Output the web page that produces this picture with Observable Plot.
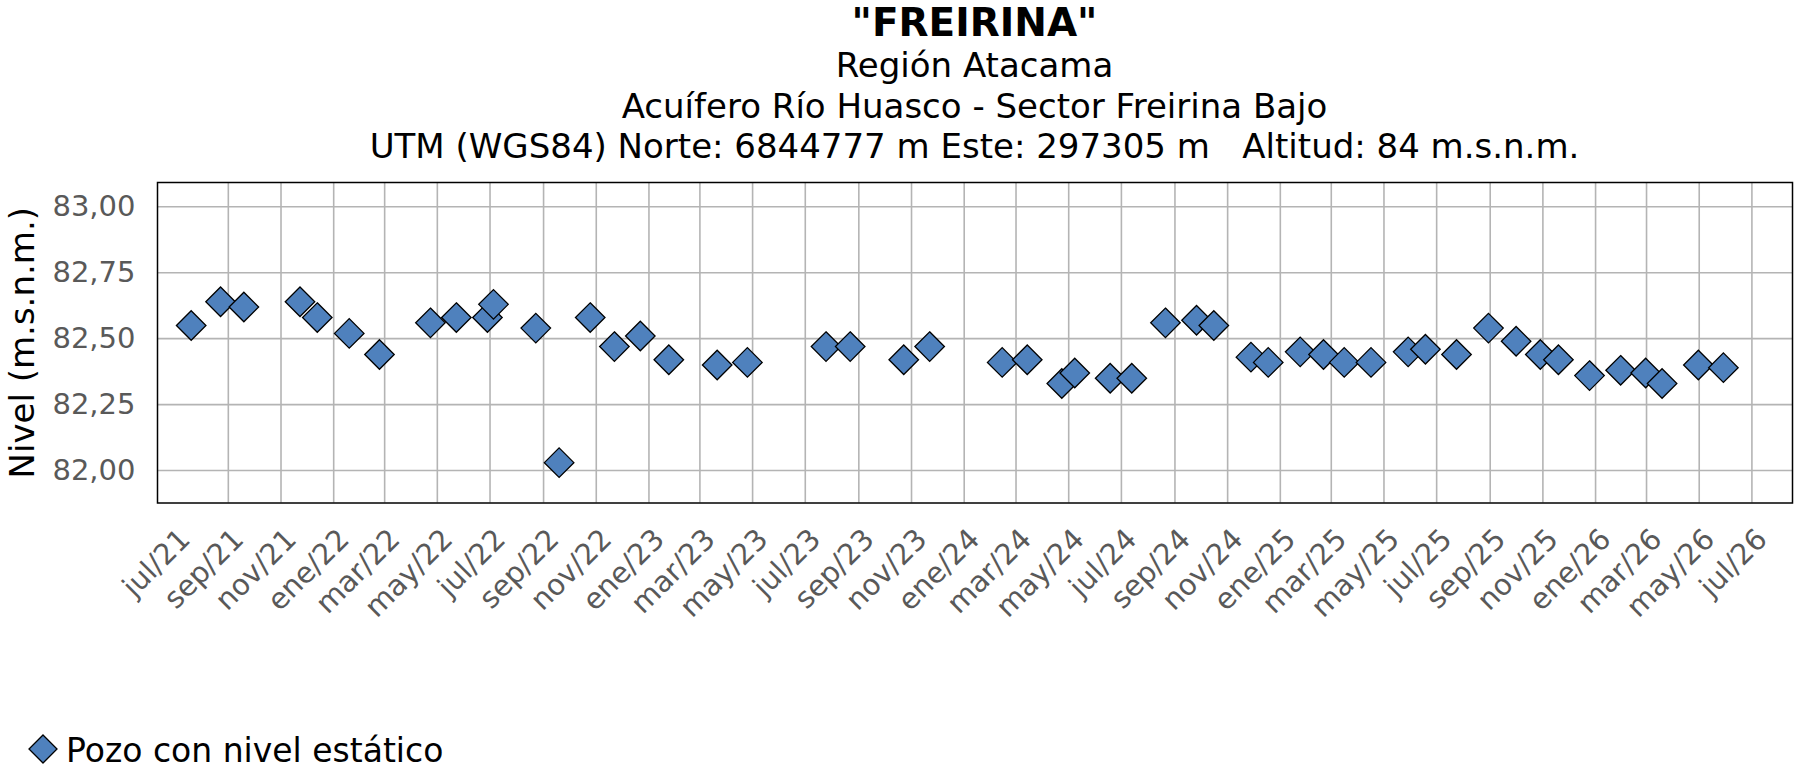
<!DOCTYPE html>
<html>
<head>
<meta charset="utf-8">
<script src="https://cdn.jsdelivr.net/npm/d3@7"></script>
<script src="https://cdn.jsdelivr.net/npm/@observablehq/plot@0.6"></script>
<style>
  html, body { margin: 0; padding: 0; background: #fff; }
  body { font-family: "DejaVu Sans", Verdana, sans-serif; }
  #wrap { width: 1797px; height: 768px; position: relative; }
  #titles { position: relative; width: 1797px; height: 170px; }
  .t { position: absolute; left: 157px; width: 1635px; text-align: center; white-space: pre; color: #000; }
  #legend { position: relative; width: 1797px; height: 38px; }
  #legend svg { position: absolute; left: 27px; top: 3px; }
  #legend span { position: absolute; left: 66px; top: 5.6px; font-size: 33px; line-height: 30px; color: #000; white-space: pre; }
</style>
</head>
<body>
<div id="wrap">
  <div id="titles"></div>
  <div id="chart"></div>
  <div id="legend"></div>
</div>
<script>
// ---- Data ----
const titleText = "\"FREIRINA\"";
const subtitleLines = [
  "Región Atacama",
  "Acuífero Río Huasco - Sector Freirina Bajo",
  "UTM (WGS84) Norte: 6844777 m Este: 297305 m   Altitud: 84 m.s.n.m."
];
const yTitle = "Nivel (m.s.n.m.)";
const seriesName = "Pozo con nivel estático";

const dates = [
  "2021-07-20","2021-08-23","2021-09-19","2021-11-23","2021-12-13","2022-01-19","2022-02-23",
  "2022-04-23","2022-05-23","2022-06-28","2022-07-05","2022-08-23","2022-09-19","2022-10-25",
  "2022-11-22","2022-12-22","2023-01-24","2023-03-21","2023-04-25","2023-07-25","2023-08-22",
  "2023-10-23","2023-11-22","2024-02-14","2024-03-14","2024-04-23","2024-05-08","2024-06-18",
  "2024-07-13","2024-08-21","2024-09-26","2024-10-16","2024-11-28","2024-12-18","2025-01-24",
  "2025-02-20","2025-03-16","2025-04-16","2025-05-29","2025-06-18","2025-07-24","2025-08-30",
  "2025-10-01","2025-10-29","2025-11-19","2025-12-25","2026-01-30","2026-02-28","2026-03-19",
  "2026-04-30","2026-05-29"
];
const niveles = [
  82.55, 82.64, 82.62, 82.64, 82.58, 82.52, 82.44,
  82.56, 82.58, 82.58, 82.63, 82.54, 82.03, 82.58,
  82.47, 82.51, 82.42, 82.40, 82.41, 82.47, 82.47,
  82.42, 82.47, 82.41, 82.42, 82.33, 82.37, 82.35,
  82.35, 82.56, 82.57, 82.55, 82.43, 82.41, 82.45,
  82.44, 82.41, 82.41, 82.45, 82.46, 82.44, 82.54,
  82.49, 82.44, 82.42, 82.36, 82.38, 82.37, 82.33,
  82.40, 82.39
];

const tickDates = [
  "2021-07-01","2021-09-01","2021-11-01","2022-01-01","2022-03-01","2022-05-01","2022-07-01",
  "2022-09-01","2022-11-01","2023-01-01","2023-03-01","2023-05-01","2023-07-01","2023-09-01",
  "2023-11-01","2024-01-01","2024-03-01","2024-05-01","2024-07-01","2024-09-01","2024-11-01",
  "2025-01-01","2025-03-01","2025-05-01","2025-07-01","2025-09-01","2025-11-01","2026-01-01",
  "2026-03-01","2026-05-01","2026-07-01"
];
const tickLabels = [
  "jul/21","sep/21","nov/21","ene/22","mar/22","may/22","jul/22",
  "sep/22","nov/22","ene/23","mar/23","may/23","jul/23","sep/23",
  "nov/23","ene/24","mar/24","may/24","jul/24","sep/24","nov/24",
  "ene/25","mar/25","may/25","jul/25","sep/25","nov/25","ene/26",
  "mar/26","may/26","jul/26"
];
const yTicks = [82.00, 82.25, 82.50, 82.75, 83.00];
const xDomain = ["2021-06-11", "2026-08-17"];
const yDomain = [81.877, 83.092];

// ---- Build ----
const data = dates.map((d, i) => ({date: new Date(d), nivel: niveles[i]}));
const tickD = tickDates.map(d => new Date(d));
const labelMap = new Map(tickD.map((d, i) => [d.getTime(), tickLabels[i]]));
const gridD = tickD.slice(1);

const titles = document.getElementById("titles");
function addLine(text, top, size, lh, weight) {
  const el = document.createElement("div");
  el.className = "t";
  el.textContent = text;
  el.style.top = top + "px";
  el.style.fontSize = size + "px";
  el.style.lineHeight = lh + "px";
  el.style.fontWeight = weight;
  titles.appendChild(el);
}
addLine(titleText, 5.8, 39, 34, "bold");
addLine(subtitleLines[0], 48, 34, 34, "normal");
addLine(subtitleLines[1], 89, 34, 34, "normal");
addLine(subtitleLines[2], 129, 34, 34, "normal");

const fmtY = d => d.toFixed(2).replace(".", ",");
const diamond = d3.symbolDiamond2 || "diamond";

const chart = Plot.plot({
  width: 1797,
  height: 560,
  marginTop: 12,
  marginBottom: 227.5,
  marginLeft: 157,
  marginRight: 5,
  style: {fontFamily: "DejaVu Sans, Verdana, sans-serif", background: "white", overflow: "visible"},
  x: {type: "utc", domain: xDomain.map(d => new Date(d))},
  y: {domain: yDomain},
  marks: [
    Plot.gridX(gridD, {stroke: "#b4b4b4", strokeOpacity: 1, strokeWidth: 1.6}),
    Plot.gridY(yTicks, {stroke: "#b4b4b4", strokeOpacity: 1, strokeWidth: 1.6}),
    Plot.axisY(yTicks, {
      tickSize: 0, tickPadding: 22, tickFormat: fmtY,
      fontSize: 29, fill: "#595959", label: null
    }),
    Plot.axisX(tickD, {
      tickSize: 0, tickPadding: 0, tickRotate: -45,
      tickFormat: d => labelMap.get(d.getTime()),
      textAnchor: "end", lineAnchor: "bottom", dx: 17, dy: 38,
      fontSize: 29, fill: "#595959", label: null
    }),
    Plot.text([yTitle], {
      text: d => d, frameAnchor: "left", rotate: -90, dx: -124,
      lineAnchor: "bottom", textAnchor: "middle", fontSize: 34, fill: "black"
    }),
    Plot.frame({stroke: "black", strokeWidth: 1.5}),
    Plot.dot(data, {
      x: "date", y: "nivel", symbol: diamond, r: 13.3,
      fill: "#4f81bd", fillOpacity: 1, stroke: "black", strokeWidth: 1.3
    })
  ]
});
document.getElementById("chart").appendChild(chart);

// legend
const legend = document.getElementById("legend");
const ns = "http://www.w3.org/2000/svg";
const lsvg = document.createElementNS(ns, "svg");
lsvg.setAttribute("width", 32);
lsvg.setAttribute("height", 32);
const poly = document.createElementNS(ns, "polygon");
poly.setAttribute("points", "16,2 30,16 16,30 2,16");
poly.setAttribute("fill", "#4f81bd");
poly.setAttribute("stroke", "black");
poly.setAttribute("stroke-width", "1.3");
lsvg.appendChild(poly);
legend.appendChild(lsvg);
const span = document.createElement("span");
span.textContent = seriesName;
legend.appendChild(span);
</script>
</body>
</html>
